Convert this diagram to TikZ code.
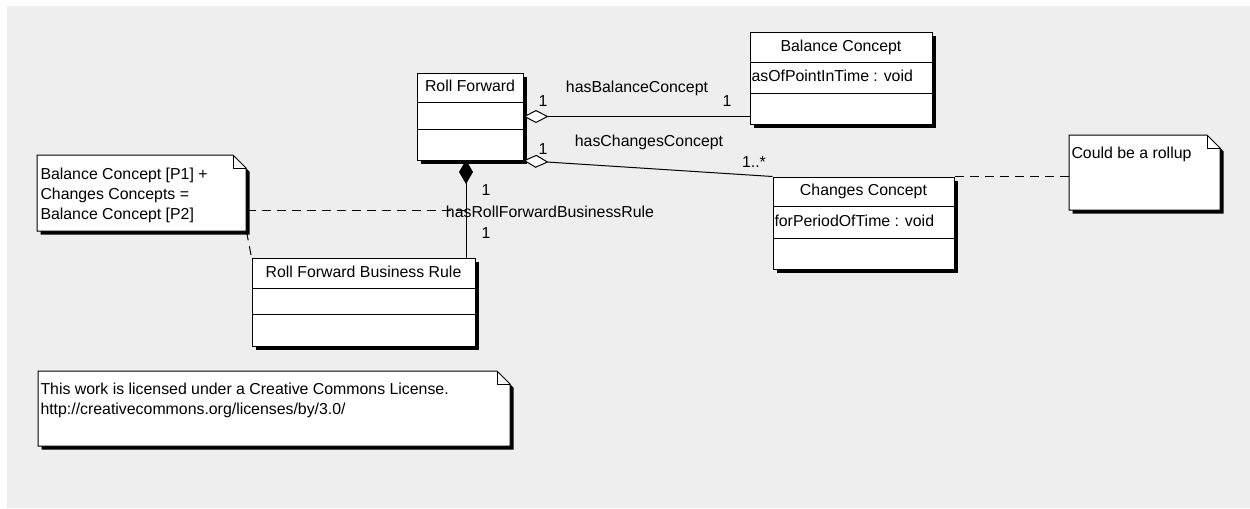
\documentclass[tikz,border=0pt]{standalone}
\usepackage{fontspec}
\setmainfont{Liberation Sans}
\usetikzlibrary{arrows.meta,calc,fit}
\definecolor{bg}{HTML}{EEEEEE}
% class box: name, x1,y1,x2,y2, line1, line2, title, attribute
\newcommand\umlclassbox[9]{%
  \fill[black] (#2+3.5,#3+3.5) rectangle (#4+3.5,#5+3.5);
  \draw[fill=white] (#2,#3) rectangle (#4,#5);
  \node[inner sep=0pt, fit={(#2,#3) (#4,#5)}] (#1) {};
  \draw (#2,#6) -- (#4,#6);
  \draw (#2,#7) -- (#4,#7);
  \node[txt] (#1-t) at ({(#2+#4)/2},{(#3+#6)/2}) {#8};
  \node[txt, anchor=west] (#1-a) at (#2+1,{(#6+#7)/2}) {#9};
}
% note: name, x1,y1,x2,y2
\newcommand\umlnotebox[5]{%
  \fill[black] (#2+3.5,#3+3.5) -- (#4-13+3.5,#3+3.5) -- (#4+3.5,#3+13+3.5) -- (#4+3.5,#5+3.5) -- (#2+3.5,#5+3.5) -- cycle;
  \draw[fill=white] (#2,#3) -- (#4-13,#3) -- (#4,#3+13) -- (#4,#5) -- (#2,#5) -- cycle;
  \node[inner sep=0pt, fit={(#2,#3) (#4,#5)}] (#1) {};
  \draw (#4-13,#3) -- (#4-13,#3+13) -- (#4,#3+13);
}
\begin{document}
\begin{tikzpicture}[x=0.75pt,y=-0.75pt,line width=0.75pt,
  font=\fontsize{11.9}{14}\selectfont,
  txt/.style={inner sep=0pt, text height=8.6pt, text depth=2.4pt},
  notetxt/.style={inner sep=0pt, anchor=base west},
  lbl/.style={inner sep=0pt, text height=8.6pt, text depth=2.4pt},
  assoc/.style={draw=black, line width=0.75pt},
  notelink/.style={draw=black, dash pattern=on 6.75pt off 4.5pt}]
\useasboundingbox (0,0) rectangle (1250,508);
\fill[bg] (7,6) rectangle (1250,508);

\umlclassbox{rf}{417}{73}{523}{160}{102}{129}{Roll Forward}{}
\umlclassbox{bc}{750}{32}{932}{124}{62}{93}{Balance Concept}{asOfPointInTime : void}
\umlclassbox{cc}{773}{177}{954}{269}{206}{238}{Changes Concept}{forPeriodOfTime : void}
\umlclassbox{rb}{252}{258}{475}{346}{288}{314}{Roll Forward Business Rule}{}

\umlnotebox{nl}{37}{155}{246}{231}
\node[notetxt] (nl1) at (40,179) {Balance Concept [P1] +};
\node[notetxt] (nl2) at (40,199) {Changes Concepts =};
\node[notetxt] (nl3) at (40,219) {Balance Concept [P2]};

\umlnotebox{nr}{1069}{135}{1220}{210}
\node[notetxt] (nr1) at (1071,158) {Could be a rollup};

\umlnotebox{nc}{38}{371}{510}{446}
\node[notetxt] (nc1) at (40,394) {This work is licensed under a Creative Commons License.};
\node[notetxt] (nc2) at (40,414) {http://creativecommons.org/licenses/by/3.0/};

% associations
\draw[assoc, {Diamond[open, fill=white, length=18.75pt, width=9.75pt]}-] (rf.east) -- (bc.west |- rf.east);
\draw[assoc, {Diamond[open, fill=white, length=18.75pt, width=9.75pt]}-] (rf.south east) -- (cc.north west);
\coordinate (rfbot) at (466,160);
\coordinate (rbtop) at (466,258);
\coordinate (rbmid) at (466,210);
\draw[assoc, {Diamond[length=18pt, width=10.5pt]}-] (rfbot) -- (rbtop);

% labels
\node[lbl] (l1) at (637,88) {hasBalanceConcept};
\node[lbl] (m1) at (543,102) {1};
\node[lbl] (m2) at (727,102) {1};
\node[lbl] (l2) at (649,142) {hasChangesConcept};
\node[lbl] (m3) at (543,150) {1};
\node[lbl] (m4) at (754,163) {1..*};
\node[lbl] (m5) at (486,191) {1};
\node[lbl] (m6) at (486,234) {1};

% note links
\draw[notelink] (nl.east |- rbmid) -- (rbmid);
\draw[notelink] (nl.south east) -- (rb.north west);
\draw[notelink] (cc.north east) -- (nr.west |- cc.north east);

\node[lbl] (l3) at (550,213) {hasRollForwardBusinessRule};
\end{tikzpicture}
\end{document}
